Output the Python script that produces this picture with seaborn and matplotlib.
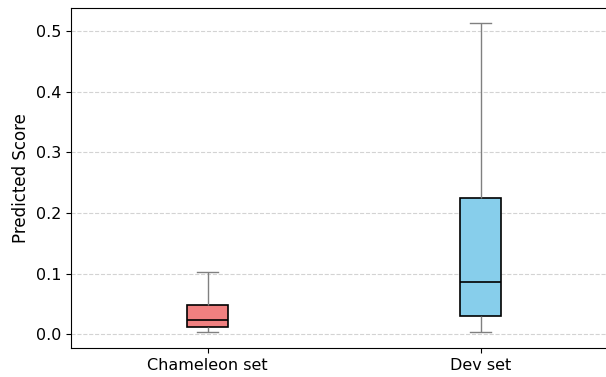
import numpy as np
import pandas as pd
import matplotlib
matplotlib.use("Agg")
import matplotlib.pyplot as plt
import seaborn as sns

# Predicted scores per evaluation set (min, Q1, median, Q3, max)
chameleon_scores = [0.003, 0.012, 0.023, 0.048, 0.102]
dev_scores = [0.003, 0.031, 0.087, 0.224, 0.513]
set_names = ["Chameleon set", "Dev set"]
box_colors = ["lightcoral", "skyblue"]

df = pd.DataFrame({
    "Set": [set_names[0]] * len(chameleon_scores) + [set_names[1]] * len(dev_scores),
    "Predicted Score": chameleon_scores + dev_scores,
})

fig = plt.figure(figsize=(6.06, 3.77), dpi=100)
ax = fig.add_axes([0.1175, 0.077, 0.901, 0.903])

sns.boxplot(
    data=df, x="Set", y="Predicted Score", hue="Set", palette=box_colors,
    order=set_names, width=0.15, whis=(0, 100), legend=False, ax=ax,
    saturation=1,
    boxprops=dict(edgecolor="black", linewidth=1.2),
    medianprops=dict(color="black", linewidth=1.2),
    whiskerprops=dict(color="gray", linewidth=1.0),
    capprops=dict(color="gray", linewidth=1.0),
    showfliers=False,
)

ax.set_xlabel("")
ax.set_ylabel("Predicted Score", fontsize=12)
ax.yaxis.grid(True, linestyle="--", color="lightgray", linewidth=0.8)
ax.set_axisbelow(True)
ax.tick_params(labelsize=11.5)
for s in ax.spines.values():
    s.set_visible(True)
    s.set_color("black")

fig.savefig("out.png", dpi=100)
